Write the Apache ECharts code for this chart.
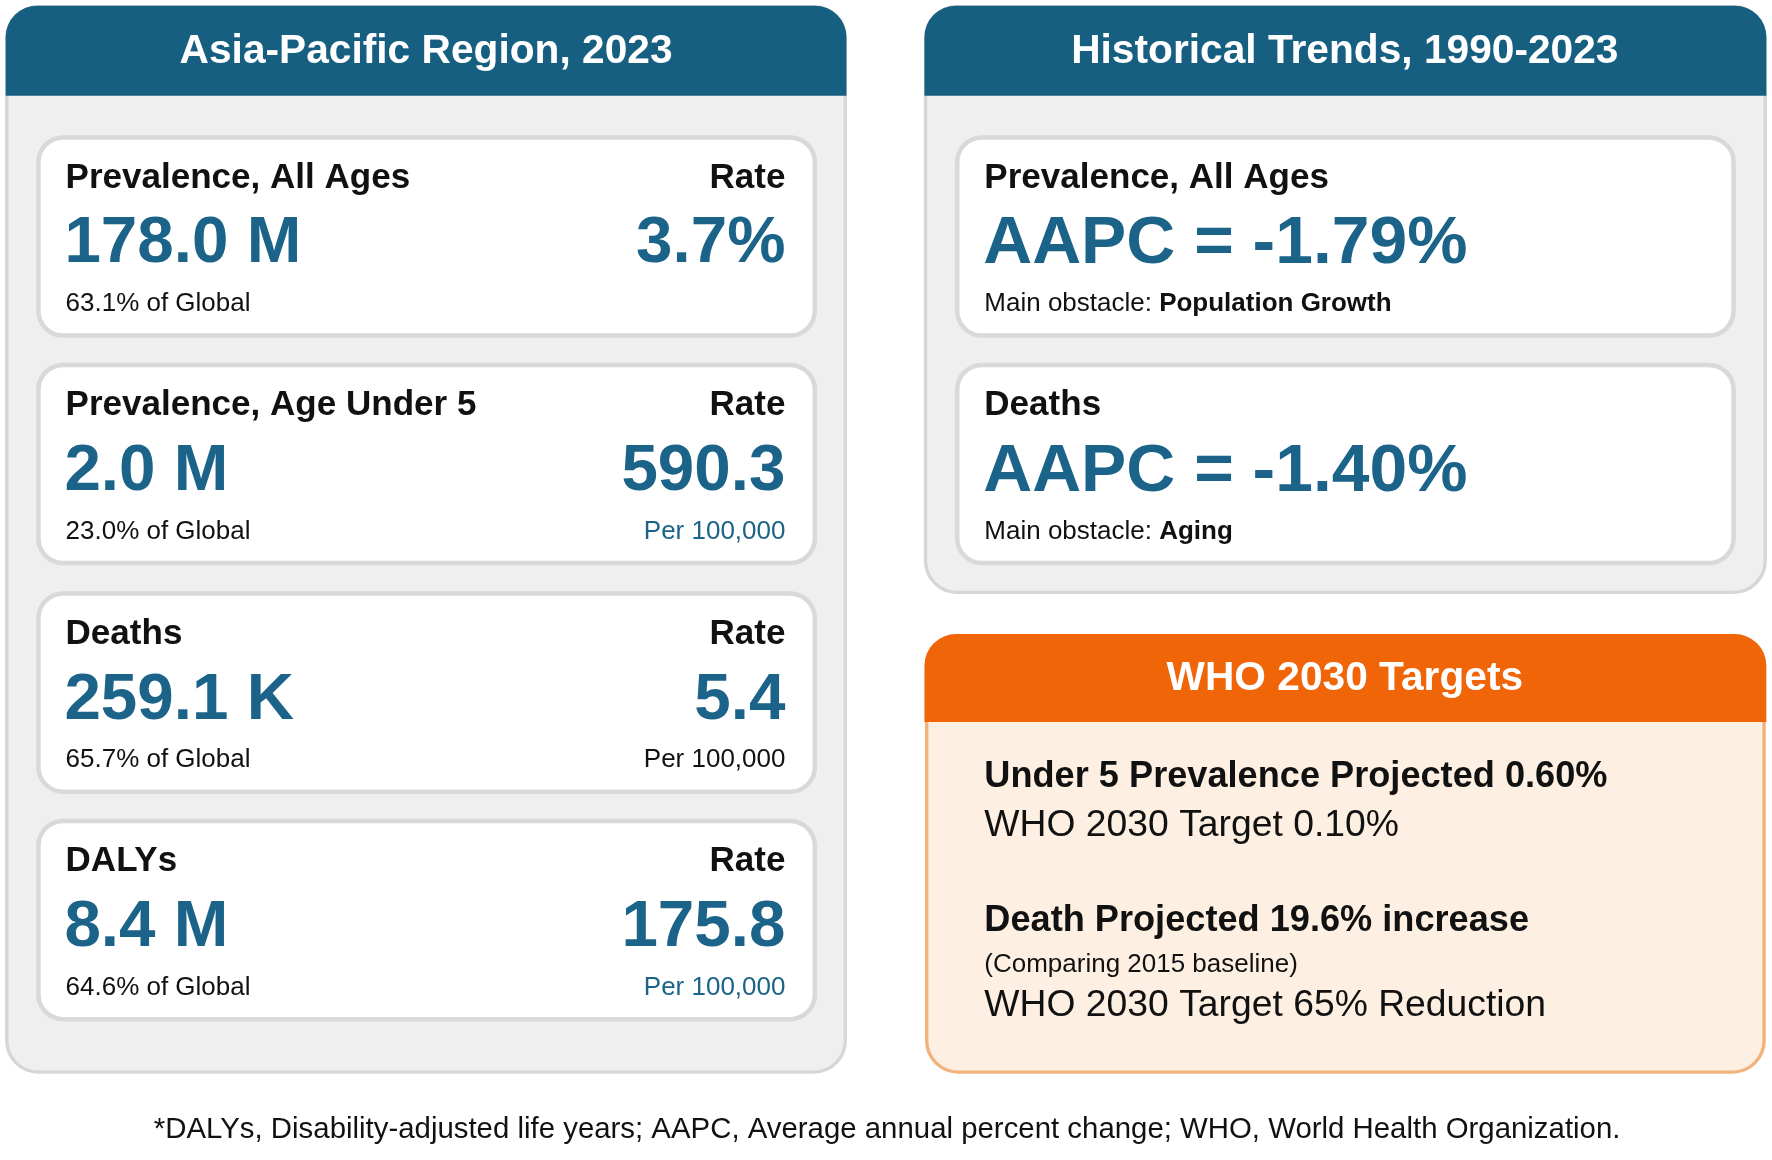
<!DOCTYPE html>
<html><head><meta charset="utf-8">
<script src="https://cdn.jsdelivr.net/npm/echarts@6/dist/echarts.min.js"></script>
<style>html,body{margin:0;padding:0;background:#fff}#c{width:1772px;height:1160px}</style>
</head><body><div id="c"></div>
<script>
const leftHeader = 'Asia-Pacific Region, 2023';
const rightHeader = 'Historical Trends, 1990-2023';
const whoHeader = 'WHO 2030 Targets';
const leftTitles = ['Prevalence, All Ages', 'Prevalence, Age Under 5', 'Deaths', 'DALYs'];
const leftValues = ['178.0 M', '2.0 M', '259.1 K', '8.4 M'];
const leftShares = ['63.1% of Global', '23.0% of Global', '65.7% of Global', '64.6% of Global'];
const leftRates = ['3.7%', '590.3', '5.4', '175.8'];
const leftRateUnits = ['', 'Per 100,000', 'Per 100,000', 'Per 100,000'];
const leftRateUnitBlue = [false, true, false, true];
const trendTitles = ['Prevalence, All Ages', 'Deaths'];
const trendAAPC = ['AAPC = -1.79%', 'AAPC = -1.40%'];
const trendObstacles = ['Population Growth', 'Aging'];
const whoLines = [
  ['Under 5 Prevalence Projected 0.60%', 'WHO 2030 Target 0.10%'],
  ['Death Projected 19.6% increase', '(Comparing 2015 baseline)', 'WHO 2030 Target 65% Reduction']
];
const footnote = '*DALYs, Disability-adjusted life years; AAPC, Average annual percent change; WHO, World Health Organization.';

const F = '"Liberation Sans", Arial, sans-serif';
const BLUE = '#1b6388', HEAD = '#175f80', ORANGE = '#ef6508';
const els = [];
function rect(x,y,w,h,r,fill,stroke,lw){els.push({type:'rect',shape:{x,y,width:w,height:h,r},style:{fill,stroke:stroke||null,lineWidth:lw||0}});}
function text(x,y,t,size,color,weight,align){els.push({type:'text',x,y,style:{text:t,font:(weight||'normal')+' '+size+'px '+F,fill:color,textAlign:align||'left',textVerticalAlign:'middle'}});}
function rich(x,y,a,b,size){els.push({type:'text',x,y,style:{text:'{a|'+a+'}{b|'+b+'}',textVerticalAlign:'middle',rich:{a:{font:'normal '+size+'px '+F,fill:'#111'},b:{font:'bold '+size+'px '+F,fill:'#111'}}}});}

// left panel
rect(6,6,742,946,[28,28,28,28],'#efefef','#d6d6d6',3);
rect(5,5,744,80,[28,28,0,0],HEAD);
text(377,46,leftHeader,36,'#fff','bold','center');
const cardY=[122,324,527,729];
leftTitles.forEach((t,i)=>{
  const y=cardY[i];
  rect(34,y,687,176,22,'#fff','#d9d9d9',4);
  text(58,y+36,t,31,'#111','bold');
  text(695,y+36,'Rate',31,'#111','bold','right');
  text(57,y+95,leftValues[i],58,BLUE,'bold');
  text(695,y+95,leftRates[i],58,BLUE,'bold','right');
  text(58,y+148,leftShares[i],23,'#111');
  if(leftRateUnits[i]) text(695,y+148,leftRateUnits[i],23,leftRateUnitBlue[i]?BLUE:'#111','normal','right');
});
// right panel
rect(819,6,743,520,[28,28,28,28],'#efefef','#d6d6d6',3);
rect(818,5,745,80,[28,28,0,0],HEAD);
text(1190,46,rightHeader,36,'#fff','bold','center');
trendTitles.forEach((t,i)=>{
  const y=cardY[i];
  rect(847,y,687,176,22,'#fff','#d9d9d9',4);
  text(871,y+36,t,31,'#111','bold');
  text(870,y+95,trendAAPC[i],60,BLUE,'bold');
  rich(871,y+148,'Main obstacle: ',trendObstacles[i],23);
});
// WHO box
rect(820,565,741,387,[28,28,28,28],'#fdf0e3','#f1b37d',3);
rect(818,563,745,78,[28,28,0,0],ORANGE);
text(1190,603,whoHeader,36,'#fff','bold','center');
text(871,690,whoLines[0][0],32,'#111','bold');
text(871,733,whoLines[0][1],33,'#111');
text(871,818,whoLines[1][0],32,'#111','bold');
text(871,857,whoLines[1][1],23,'#111');
text(871,893,whoLines[1][2],33,'#111');
// footnote
text(785,1003,footnote,26,'#111','normal','center');

const chart = echarts.init(document.getElementById('c'));
chart.setOption({animation:false,graphic:[{type:'group',scaleX:1772/1568,scaleY:1160/1030,children:els}]});
</script></body></html>
